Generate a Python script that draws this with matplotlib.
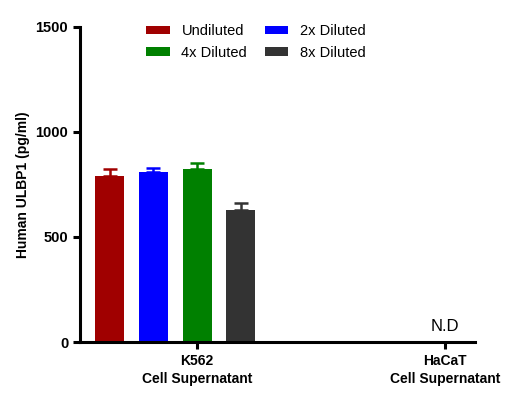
import numpy as np
import matplotlib.pyplot as plt

plt.rcParams['font.family'] = ['Liberation Sans', 'DejaVu Sans']

groups = ['K562\nCell Supernatant', 'HaCaT\nCell Supernatant']
series = ['Undiluted', '2x Diluted', '4x Diluted', '8x Diluted']
colors = ['#a00000', '#0000ff', '#008000', '#333333']
means = [790, 810, 824, 629]
errs = [32, 20, 27, 34]

fig = plt.figure(figsize=(5.18, 3.98), dpi=100)
ax = fig.add_axes([0.1544, 0.1407, 0.7626, 0.7915])

step = 0.176
offsets = [-2 * step, -step, 0, step]
handles = []
for off, m, e, c, lab in zip(offsets, means, errs, colors, series):
    b = ax.bar(0 + off, m, width=0.117, color=c, label=lab, zorder=2)
    handles.append(b)
    ax.errorbar(0 + off, m, yerr=[[0], [e]], fmt='none', ecolor=c,
                elinewidth=1.8, capsize=5, capthick=1.8, zorder=1)

ax.text(1, 40, 'N.D', ha='center', va='bottom', fontsize=12)

ax.set_xlim(-0.472, 1.121)
ax.set_ylim(0, 1500)
ax.set_yticks([0, 500, 1000, 1500])
ax.set_xticks([0, 1])
ax.set_xticklabels(groups, fontweight='bold', fontsize=10, linespacing=1.35)
for t in ax.get_yticklabels():
    t.set_fontweight('bold')
    t.set_fontsize(10.5)
ax.set_ylabel('Human ULBP1 (pg/ml)', fontweight='bold', fontsize=10)

for s in ['top', 'right']:
    ax.spines[s].set_visible(False)
for s in ['left', 'bottom']:
    ax.spines[s].set_linewidth(2.2)
ax.tick_params(width=2.2, length=5)

# row-major order like the original
order = [0, 2, 1, 3]
ax.legend([handles[i] for i in order], [series[i] for i in order],
          ncol=2, loc='upper left', bbox_to_anchor=(0.135, 1.05), frameon=False,
          fontsize=10.5, handlelength=1.6, handleheight=0.5, columnspacing=1.2,
          labelspacing=0.5)

plt.savefig('out.png', dpi=100)
